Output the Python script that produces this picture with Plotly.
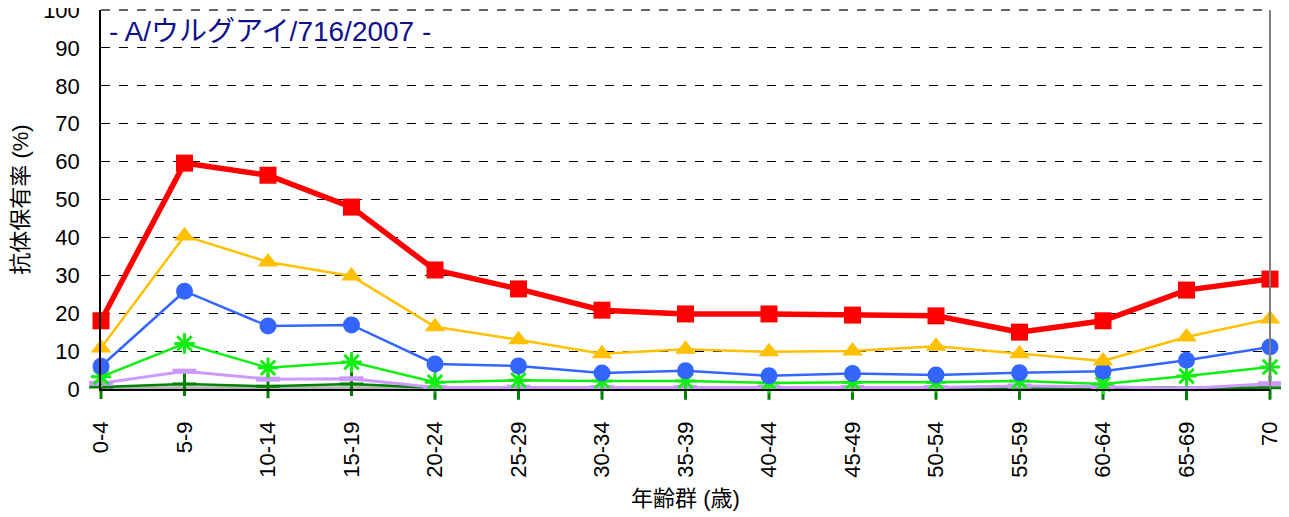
import plotly.graph_objects as go

age_groups = ["0-4", "5-9", "10-14", "15-19", "20-24", "25-29", "30-34", "35-39",
              "40-44", "45-49", "50-54", "55-59", "60-64", "65-69", "70"]

s_red = [18.0, 59.6, 56.4, 48.0, 31.4, 26.4, 20.8, 19.8, 19.8, 19.5, 19.3, 15.0, 18.0, 26.1, 29.0]
s_yellow = [10.8, 40.4, 33.5, 29.8, 16.4, 13.0, 9.3, 10.5, 9.8, 10.0, 11.3, 9.3, 7.4, 13.7, 18.5]
s_blue = [6.0, 25.8, 16.6, 16.9, 6.6, 6.1, 4.2, 4.8, 3.5, 4.1, 3.7, 4.3, 4.7, 7.6, 11.1]
s_green = [3.2, 12.0, 5.6, 7.1, 1.8, 2.3, 2.1, 2.1, 1.6, 1.8, 1.8, 2.1, 1.3, 3.4, 5.8]
s_purple = [1.5, 4.7, 2.6, 2.7, 0.4, 0.5, 0.4, 0.4, 0.4, 0.4, 0.4, 0.8, 0.6, 0.1, 1.4]
s_dkgreen = [0.5, 1.3, 0.7, 1.3, 0.3, 0.3, 0.3, 0.3, 0.3, 0.3, 0.3, 0.3, 0.3, 0.2, 0.3]
s_gray = [0.2, 0.2, 0.2, 0.2, 0.2, 0.2, 0.2, 0.2, 0.2, 0.2, 0.2, 0.2, 0.2, 0.2, 0.2]

y_ticks = [0, 10, 20, 30, 40, 50, 60, 70, 80, 90, 100]

x = list(range(len(age_groups)))

FONT = "Arial, 'Liberation Sans', 'Noto Sans CJK JP', sans-serif"

fig = go.Figure()

def add(vals, color, width, symbol, size, mline=0, mcolor=None):
    fig.add_trace(go.Scatter(
        x=x, y=vals, mode="lines+markers",
        line=dict(color=color, width=width),
        marker=dict(symbol=symbol, size=size, color=mcolor or color,
                    line=dict(color=color, width=mline)),
        cliponaxis=False, showlegend=False))

add(s_gray, "#b4b4b4", 4, "circle", 1)
add(s_dkgreen, "#008000", 2.5, "cross-thin", 17, mline=3)
add(s_purple, "#cc99ff", 3, "line-ew", 17, mline=5)
add(s_green, "#11ee11", 2.5, "asterisk", 17, mline=3)
add(s_blue, "#3366ff", 2.5, "circle", 17)
add(s_yellow, "#ffc000", 2.5, "triangle-up", 18)
add(s_red, "#ff0000", 5.5, "square", 17)

fig.add_shape(type="line", xref="paper", yref="paper", x0=1, x1=1, y0=0, y1=1,
              line=dict(color="#808080", width=2))
fig.add_shape(type="line", xref="paper", yref="paper", x0=0, x1=1, y0=1, y1=1,
              line=dict(color="#333333", width=1.5, dash="dash"))

fig.add_annotation(xref="paper", yref="paper", x=0.005, y=0.942, xanchor="left", yanchor="middle",
                   text="- A/ウルグアイ/716/2007 -", showarrow=False,
                   font=dict(family=FONT, size=28, color="#10108a"))

fig.update_layout(
    width=1281, height=509,
    margin=dict(l=93, r=19, t=2, b=128, autoexpand=False),
    plot_bgcolor="white", paper_bgcolor="white",
    font=dict(family=FONT, size=22, color="black"),
    xaxis=dict(range=[0, 14], tickmode="array", tickvals=x, ticktext=age_groups,
               tickangle=-90, showgrid=False, zeroline=False, automargin=False,
               showline=True, linecolor="black", linewidth=1.5,
               ticklabelstandoff=22,
               title=dict(text="年齢群 (歳)", font=dict(size=22), standoff=14),
               tickfont=dict(size=22)),
    yaxis=dict(range=[0, 100], tickmode="array", tickvals=y_ticks,
               showgrid=True, gridcolor="black", griddash="dash", gridwidth=1,
               zeroline=False, showline=True, linecolor="black", linewidth=1.5,
               ticks="", tickfont=dict(size=22), automargin=False,
               ticklabelstandoff=15, ticklabeloverflow="allow",
               title=dict(text="抗体保有率 (%)", font=dict(size=22), standoff=24)),
)

fig.write_html("out.html")
